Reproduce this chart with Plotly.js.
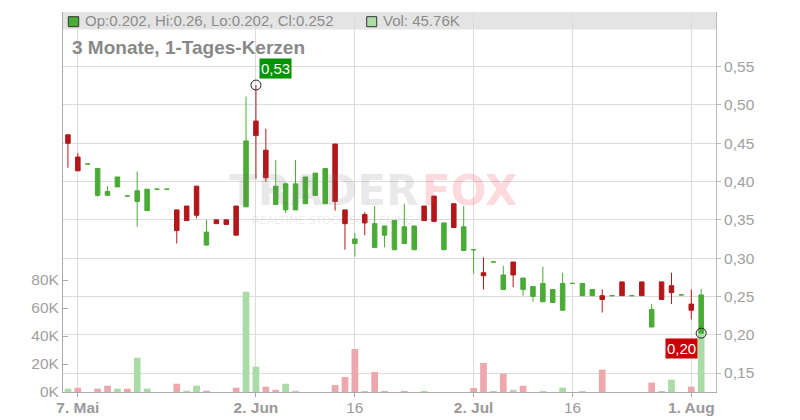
<!DOCTYPE html>
<html><head><meta charset="utf-8">
<script src="https://cdn.plot.ly/plotly-3.0.1.min.js"></script>
<style>html,body{margin:0;padding:0;background:#fff}#chart{width:800px;height:420px}</style>
</head><body><div id="chart"></div>
<script>
const dates = ['2025-05-06','2025-05-07','2025-05-08','2025-05-09',
'2025-05-12','2025-05-13','2025-05-14','2025-05-15','2025-05-16',
'2025-05-19','2025-05-20','2025-05-21','2025-05-22','2025-05-23',
'2025-05-26','2025-05-27','2025-05-28','2025-05-29','2025-05-30',
'2025-06-02','2025-06-03','2025-06-04','2025-06-05','2025-06-06',
'2025-06-09','2025-06-10','2025-06-11','2025-06-12','2025-06-13',
'2025-06-16','2025-06-17','2025-06-18','2025-06-19','2025-06-20',
'2025-06-23','2025-06-24','2025-06-25','2025-06-26','2025-06-27',
'2025-06-30','2025-07-01','2025-07-02','2025-07-03','2025-07-04',
'2025-07-07','2025-07-08','2025-07-09','2025-07-10','2025-07-11',
'2025-07-14','2025-07-15','2025-07-16','2025-07-17','2025-07-18',
'2025-07-21','2025-07-22','2025-07-23','2025-07-24','2025-07-25',
'2025-07-28','2025-07-29','2025-07-30','2025-07-31','2025-08-01',
'2025-08-04'];

const open = [0.461,0.432,0.423,0.382,0.382,0.393,0.381,0.374,0.362,0.390,
  0.390,0.363,0.368,0.394,0.317,0.350,0.350,0.368,0.367,0.479,
  0.441,0.370,0.363,0.363,0.371,0.382,0.371,0.449,0.363,0.319,
  0.357,0.314,0.330,0.311,0.319,0.311,0.368,0.381,0.311,0.371,
  0.310,0.311,0.281,0.295,0.259,0.295,0.259,0.250,0.243,0.242,
  0.232,0.267,0.251,0.251,0.251,0.251,0.269,0.251,0.269,0.210,
  0.269,0.264,0.252,0.240,0.202];
const high = [0.461,0.437,0.423,0.417,0.394,0.406,0.381,0.413,0.390,0.390,
  0.390,0.363,0.368,0.394,0.350,0.350,0.350,0.368,0.511,0.526,
  0.469,0.428,0.399,0.428,0.406,0.411,0.417,0.449,0.363,0.333,
  0.360,0.368,0.342,0.349,0.371,0.342,0.368,0.381,0.346,0.371,
  0.368,0.311,0.301,0.295,0.290,0.295,0.274,0.263,0.289,0.259,
  0.281,0.267,0.267,0.259,0.259,0.251,0.269,0.251,0.269,0.240,
  0.269,0.281,0.252,0.259,0.260];
const low = [0.418,0.414,0.423,0.380,0.382,0.393,0.381,0.341,0.362,0.390,
  0.390,0.319,0.349,0.352,0.317,0.345,0.344,0.330,0.367,0.404,
  0.400,0.370,0.359,0.363,0.371,0.382,0.371,0.362,0.311,0.302,
  0.330,0.314,0.314,0.311,0.319,0.311,0.349,0.348,0.311,0.340,
  0.310,0.280,0.259,0.295,0.259,0.262,0.251,0.243,0.243,0.242,
  0.232,0.267,0.251,0.251,0.229,0.251,0.251,0.251,0.251,0.210,
  0.246,0.240,0.252,0.220,0.202];
const close = [0.450,0.414,0.423,0.417,0.387,0.406,0.381,0.388,0.390,0.390,
  0.390,0.336,0.349,0.356,0.334,0.345,0.344,0.330,0.453,0.460,
  0.405,0.394,0.397,0.397,0.406,0.411,0.417,0.374,0.345,0.325,
  0.346,0.345,0.342,0.349,0.341,0.342,0.349,0.348,0.346,0.340,
  0.341,0.311,0.277,0.295,0.278,0.278,0.274,0.263,0.267,0.259,
  0.267,0.267,0.267,0.259,0.246,0.251,0.251,0.251,0.251,0.233,
  0.246,0.255,0.252,0.232,0.252];
// volume in thousands
const volumeK = [2.4,3.1,0,2.4,4.5,2.4,2.4,24.5,2.4,0,
  0,5.9,0.9,4.5,0.9,0,0,3.1,71.6,18.1,
  3.8,1.6,5.9,0.9,0,0,0,5.0,10.7,30.7,
  0.7,14.3,0.7,0,0.7,0,0.7,0,0,0,
  0,2.9,20.7,0.7,13.1,1.6,4.5,0,0.7,0,
  3.1,0,0.7,0,16.0,0,0,0,0,6.7,
  0.7,8.8,0,3.8,45.76];

const tickDates = ['2025-05-07','2025-06-02','2025-06-16','2025-07-02','2025-07-16','2025-08-01'];
const tickLabels = ['<b>7. Mai</b>','<b>2. Jun</b>','16','<b>2. Jul</b>','16','<b>1. Aug</b>'];
const priceTicks = [0.15,0.20,0.25,0.30,0.35,0.40,0.45,0.50,0.55];
const volTicks = [0,20,40,60,80];
const titleText = '3 Monate, 1-Tages-Kerzen';

const G = '#4aab35', R = '#b3171a';
const VG = '#abdca8', VR = '#efa7ae', VN = '#c8c8c8';
const FONT = 'Liberation Sans, Arial, sans-serif';
const comma = v => v.toFixed(2).replace('.', ',');

const volColors = close.map((c, i) => i === 0 ? VG : (c > close[i-1] + 1e-9 ? VG : (c < close[i-1] - 1e-9 ? VR : VN)));

const isDoji = open.map((o, i) => o === close[i]);
function pick(arr, want) { return arr.filter((_, i) => isDoji[i] === want); }

const n = dates.length;
const last = n - 1;
let hiIdx = 0;
high.forEach((h, i) => { if (h > high[hiIdx]) hiIdx = i; });

const traces = [
  {type:'bar', x:dates, y:volumeK, xaxis:'x', yaxis:'y', width:0.68,
   marker:{color:volColors, line:{width:0}}, hoverinfo:'skip'},
  {type:'candlestick', x:pick(dates,false), open:pick(open,false), high:pick(high,false), low:pick(low,false), close:pick(close,false),
   xaxis:'x', yaxis:'y2', whiskerwidth:0,
   increasing:{line:{color:G, width:1}, fillcolor:G},
   decreasing:{line:{color:R, width:1}, fillcolor:R}, hoverinfo:'skip'},
  {type:'candlestick', x:pick(dates,true), open:pick(open,true), high:pick(high,true), low:pick(low,true), close:pick(close,true),
   xaxis:'x', yaxis:'y2', whiskerwidth:0,
   increasing:{line:{color:G, width:1}, fillcolor:G},
   decreasing:{line:{color:G, width:1}, fillcolor:G}, hoverinfo:'skip'},
  {type:'scatter', mode:'markers', x:[dates[hiIdx], dates[last]], y:[high[hiIdx], low[last]],
   xaxis:'x', yaxis:'y2', marker:{symbol:'circle-open', size:10, color:'#222', line:{width:1, color:'#222'}}, hoverinfo:'skip'}
];

const plotW = 800 - 63 - 84, plotH = 420 - 12 - 28;
const px = v => (v - 63) / plotW;
const py = v => (392 - v) / plotH;

const layout = {
  width:800, height:420, margin:{l:63, r:84, t:12, b:28},
  paper_bgcolor:'#fff', plot_bgcolor:'#fff', showlegend:false,
  boxgap:0.35,
  font:{family:FONT, color:'#999'},
  xaxis:{type:'category', categoryorder:'array', categoryarray:dates, range:[-0.5, n + 0.5],
    tickvals:tickDates, ticktext:tickLabels, showgrid:true, gridcolor:'#dcdcdc', gridwidth:1,
    ticks:'outside', ticklen:4, tickcolor:'#aaa', showline:true, linecolor:'#aaa', linewidth:1,
    ticklabelstandoff:-3,
    tickfont:{size:15.5, color:'#9a9a9a', family:FONT}, rangeslider:{visible:false}, fixedrange:true, zeroline:false},
  yaxis:{side:'left', range:[0, plotH / 1.4], tickvals:volTicks, ticktext:volTicks.map(v => v + 'K'),
    showgrid:false, zeroline:false, ticks:'inside', ticklen:5, tickcolor:'#aaa', showline:true, linecolor:'#aaa',
    tickfont:{size:15.5, color:'#a0a0a0', family:FONT}, fixedrange:true},
  yaxis2:{overlaying:'y', side:'right', range:[0.1252, 0.6214], tickvals:priceTicks, ticktext:priceTicks.map(comma),
    showgrid:true, gridcolor:'#dcdcdc', gridwidth:1, zeroline:false, ticks:'outside', ticklen:4, tickcolor:'#bbb',
    showline:true, linecolor:'#bbb', tickfont:{size:15.5, color:'#a0a0a0', family:FONT}, fixedrange:true},
  shapes:[
    {type:'rect', xref:'paper', yref:'paper', x0:0, x1:1, y0:py(29.5), y1:1, fillcolor:'#e4e4e4', line:{width:0}, layer:'below'},
    {type:'rect', xref:'paper', yref:'paper', x0:px(68.3), x1:px(78.7), y0:py(26.7), y1:py(16.7), fillcolor:G, line:{color:'#333', width:1}},
    {type:'rect', xref:'paper', yref:'paper', x0:px(366.7), x1:px(376.7), y0:py(26.7), y1:py(16.7), fillcolor:VG, line:{color:'#333', width:1}}
  ],
  annotations:[
    {xref:'paper', yref:'paper', x:px(420), y:py(190), xanchor:'right', yanchor:'middle', showarrow:false, height:38,
     text:'<b>TRADER</b>', font:{family:'DejaVu Sans', size:42, color:'rgba(120,120,120,0.16)'}},
    {xref:'paper', yref:'paper', x:px(420), y:py(190), xanchor:'left', yanchor:'middle', showarrow:false, height:38,
     text:'<b>FOX</b>', font:{family:'DejaVu Sans', size:42, color:'rgba(240,60,80,0.2)'}},
    {xref:'paper', yref:'paper', x:px(250), y:py(220), xanchor:'left', yanchor:'middle', showarrow:false, height:12,
     text:'REALTIME STOCK SCREENING', font:{family:'DejaVu Sans', size:11, color:'rgba(120,120,120,0.14)'}},
    {xref:'paper', yref:'paper', x:px(83), y:py(21), xanchor:'left', yanchor:'middle', showarrow:false,
     text:'Op:' + open[last] + ', Hi:' + high[last] + ', Lo:' + low[last] + ', Cl:' + close[last],
     font:{family:FONT, size:15, color:'#8c8c8c'}},
    {xref:'paper', yref:'paper', x:px(381), y:py(21), xanchor:'left', yanchor:'middle', showarrow:false,
     text:'Vol: ' + volumeK[last] + 'K', font:{family:FONT, size:15, color:'#8c8c8c'}},
    {xref:'paper', yref:'paper', x:px(70), y:py(47.8), xanchor:'left', yanchor:'middle', showarrow:false,
     text:'<b>' + titleText + '</b>', font:{family:FONT, size:19, color:'#888'}},
    {xref:'x', yref:'y2', x:dates[hiIdx], y:high[hiIdx], xanchor:'left', yanchor:'bottom', xshift:3.5, yshift:6,
     showarrow:false, text:comma(high[hiIdx]), bgcolor:'#009400', borderpad:1,
     font:{family:FONT, size:15, color:'#fff'}},
    {xref:'x', yref:'y2', x:dates[last], y:low[last], xanchor:'right', yanchor:'top', xshift:-3.5, yshift:-5,
     showarrow:false, text:comma(low[last]), bgcolor:'#cc0000', borderpad:1,
     font:{family:FONT, size:15, color:'#fff'}}
  ]
};

Plotly.newPlot('chart', traces, layout, {staticPlot:true, displayModeBar:false});
</script>
</body></html>
